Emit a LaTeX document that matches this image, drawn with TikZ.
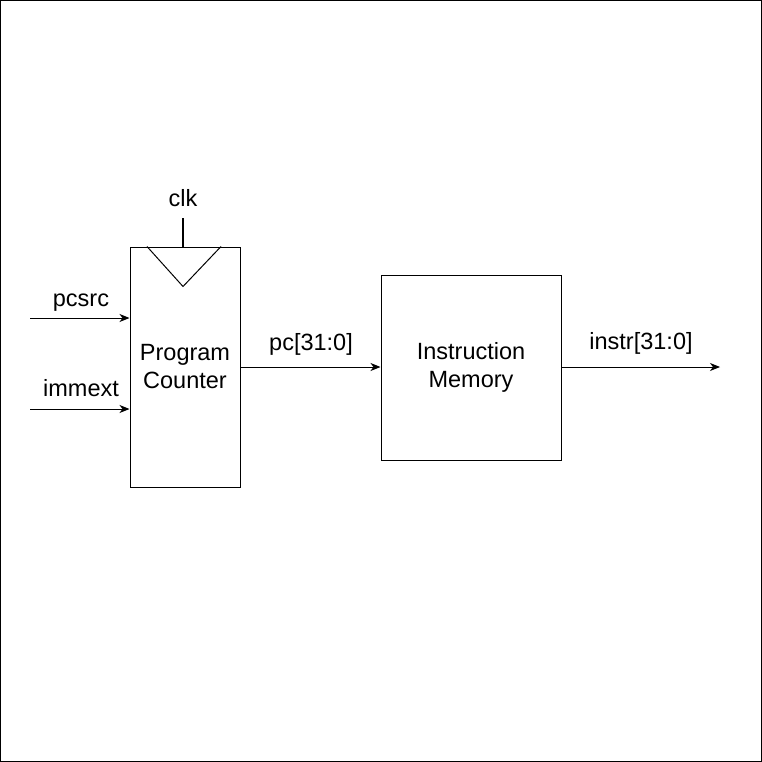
\documentclass[tikz,border=0pt]{standalone}
\usepackage{fontspec}
\setmainfont{Liberation Sans}
\usetikzlibrary{positioning,arrows.meta}

\begin{document}
\begin{tikzpicture}[x=1bp, y=-1bp, line width=1bp, >={Stealth[length=10bp,width=8bp,inset=3bp]},
    every node/.style={font=\fontsize{23.5bp}{28bp}\selectfont, inner sep=0pt},
    block/.style={draw, rectangle, align=center, execute at begin node={\rule{0pt}{21bp}}}]
        \useasboundingbox (0,0) rectangle (762,762);
        \draw (0.5,0.5) rectangle (761.5,761.5);
        \node (pc) [block, minimum width=110bp, minimum height=240bp] at (185,367) {Program\\Counter};
        \node (im) [block, minimum width=180bp, minimum height=185bp] at (471,367.5) {Instruction\\Memory};
        \coordinate (pcsrcin) at (30,318);
        \coordinate (immextin) at (30,409);
        \coordinate (clkin) at (183,218);
        \coordinate (instrout) at (720,367);
        \node (clklbl) at (183,198) {clk};
        \node (pcsrclbl) at (81,303) {pcsrc};
        \node (immextlbl) at (81,388) {immext};
        \node (pclbl) at (311,344) {pc[31:0]};
        \node (instrlbl) at (641,343) {instr[31:0]};
        \draw[->] (pcsrcin) -- (pcsrcin -| pc.west);
        \draw[->] (immextin) -- (immextin -| pc.west);
        \draw[line width=2bp] (clkin) -- (clkin |- pc.north);
        \draw ([xshift=-38bp]pc.north) -- ([xshift=-2bp, yshift=-40bp]pc.north) -- ([xshift=36bp]pc.north);
        \draw[->] (pc.east) -- (im.west |- pc.east);
        \draw[->] (im.east |- pc.east) -- (instrout);
    \end{tikzpicture}
\end{document}
